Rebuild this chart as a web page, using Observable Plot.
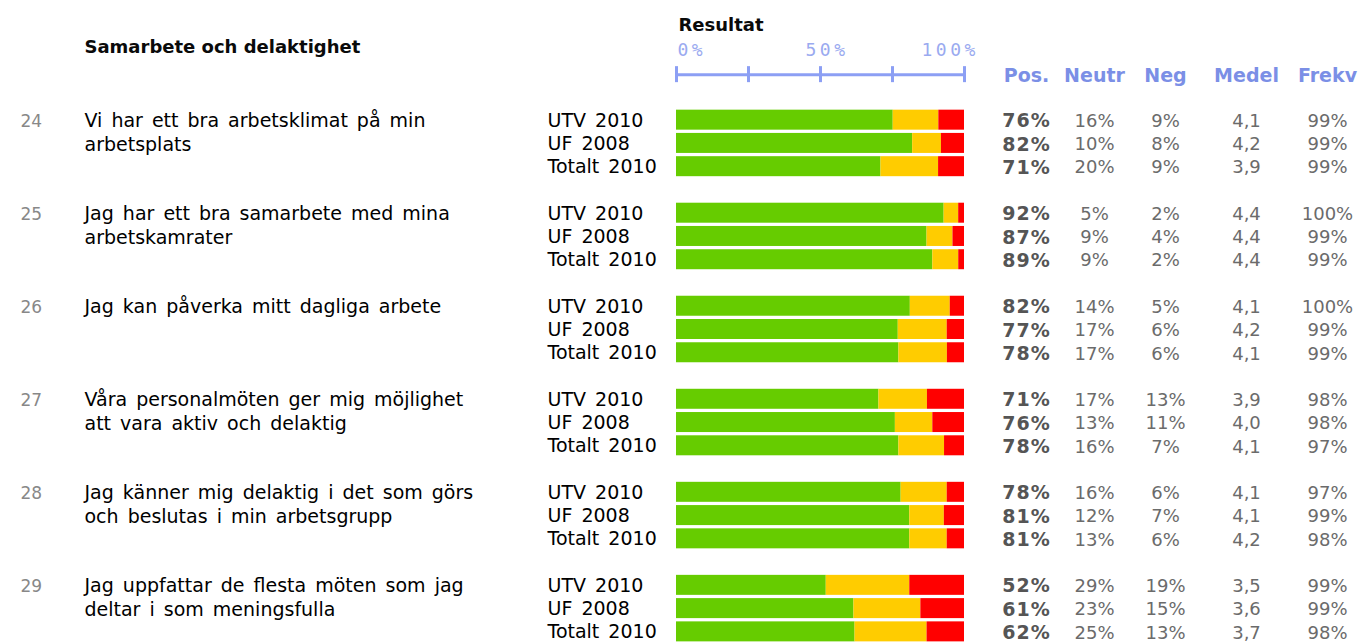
<!DOCTYPE html>
<html><head><meta charset="utf-8">
<script src="https://cdn.jsdelivr.net/npm/d3@7"></script>
<script src="https://cdn.jsdelivr.net/npm/@observablehq/plot@0.6"></script>
<style>
body{margin:0;overflow:hidden;background:#fff}
</style></head><body><div id="chart"></div>
<script>
const sectionTitle = "Samarbete och delaktighet";
const axisTitle = "Resultat";
const questionNumbers = [24, 25, 26, 27, 28, 29];
const questionLines = [
  ["Vi har ett bra arbetsklimat på min", "arbetsplats"],
  ["Jag har ett bra samarbete med mina", "arbetskamrater"],
  ["Jag kan påverka mitt dagliga arbete"],
  ["Våra personalmöten ger mig möjlighet", "att vara aktiv och delaktig"],
  ["Jag känner mig delaktig i det som görs", "och beslutas i min arbetsgrupp"],
  ["Jag uppfattar de flesta möten som jag", "deltar i som meningsfulla"]
];
const groups = ["UTV 2010", "UF 2008", "Totalt 2010"];
const positive = [[76, 82, 71], [92, 87, 89], [82, 77, 78], [71, 76, 78], [78, 81, 81], [52, 61, 62]];
const neutral  = [[16, 10, 20], [5, 9, 9], [14, 17, 17], [17, 13, 16], [16, 12, 13], [29, 23, 25]];
const negative = [[9, 8, 9], [2, 4, 2], [5, 6, 6], [13, 11, 7], [6, 7, 6], [19, 15, 13]];
const medel = [["4,1", "4,2", "3,9"], ["4,4", "4,4", "4,4"], ["4,1", "4,2", "4,1"], ["3,9", "4,0", "4,1"], ["4,1", "4,1", "4,2"], ["3,5", "3,6", "3,7"]];
const frekv = [[99, 99, 99], [100, 99, 99], [100, 99, 99], [98, 98, 97], [97, 99, 98], [99, 99, 98]];
const columnHeaders = ["Pos.", "Neutr", "Neg", "Medel", "Frekv"];
const axisTicks = [0, 25, 50, 75, 100];
const axisLabels = ["0%", "50%", "100%"];
const axisLabelValues = [0, 50, 100];
const categories = ["pos", "neu", "neg"];
const catColors = ["#66cc00", "#ffcc00", "#ff0000"];

// layout rows
const rowKey = (q, g) => `r${q}-${g}`;
const domain = ["title", "axisLabel", "axis", "gap"];
questionNumbers.forEach((_, q) => {
  groups.forEach((_, g) => domain.push(rowKey(q, g)));
  if (q < questionNumbers.length - 1) domain.push(`s${q}`);
});

const bars = [];
const rows = [];
questionNumbers.forEach((num, q) => {
  groups.forEach((grp, g) => {
    const row = rowKey(q, g);
    bars.push({row, cat: "pos", value: positive[q][g]});
    bars.push({row, cat: "neu", value: neutral[q][g]});
    bars.push({row, cat: "neg", value: negative[q][g]});
    rows.push({row, grp, pos: positive[q][g] + "%", neu: neutral[q][g] + "%", neg: negative[q][g] + "%", med: medel[q][g], frk: frekv[q][g] + "%"});
  });
});
const qNums = questionNumbers.map((n, q) => ({row: rowKey(q, 0), t: String(n)}));
const qLines = questionLines.flatMap((lines, q) => lines.map((t, i) => ({row: rowKey(q, i), t})));

const font = "DejaVu Sans";
const colDx = [62, 130, 201, 282, 363];
const colKeys = ["pos", "neu", "neg", "med", "frk"];

const valueMarks = colKeys.map((k, i) => Plot.text(rows, {
  y: "row", text: k, frameAnchor: "right", dx: colDx[i], dy: 1, textAnchor: "middle",
  fontFamily: font, fontSize: i === 0 ? 19 : 18, fontWeight: i === 0 ? "bold" : "normal",
  fill: i === 0 ? "#555555" : "#6b6b6b"
}));
const headerMarks = columnHeaders.map((h, i) => Plot.text([h], {
  y: () => "axis", text: d => d, frameAnchor: "right", dx: colDx[i], dy: 2, textAnchor: "middle",
  fontFamily: font, fontWeight: "bold", fontSize: 19, fill: "#7b8fe6"
}));
const axisLabelDx = [1, -15, -43];
const axisLabelMarks = axisLabels.map((t, i) => Plot.text([axisLabelValues[i]], {
  x: d => d / 100, y: () => "axisLabel", text: () => t, textAnchor: "start", dx: axisLabelDx[i],
  fontFamily: "DejaVu Sans Mono", fontSize: 18, fill: "#9aaaf0"
}));

const chart = Plot.plot({
  width: 1359,
  height: 643,
  marginLeft: 676,
  marginRight: 395,
  marginTop: 15,
  marginBottom: 0,
  x: {domain: [0, 1], axis: null},
  y: {domain, axis: null, paddingInner: 0.14, paddingOuter: 0.07, round: false},
  color: {domain: categories, range: catColors},
  style: {fontFamily: font, background: "#fff"},
  marks: [
    Plot.barX(bars, Plot.stackX({x: "value", y: "row", fill: "cat", order: null, offset: "normalize"})),
    // custom axis
    Plot.ruleY(["axis"], {y: d => d, x1: 0, x2: 1, stroke: "#8c9ff4", strokeWidth: 3, dy: 1}),
    Plot.tickX(axisTicks, {x: d => d / 100, y: () => "axis", stroke: "#8c9ff4", strokeWidth: 3, insetTop: 2, insetBottom: 2, dy: 1}),
    ...axisLabelMarks,
    // titles
    Plot.text([axisTitle], {y: () => "title", text: d => d, frameAnchor: "left", dx: 2, dy: -2, textAnchor: "start", fontFamily: font, fontWeight: "bold", fontSize: 18, fill: "#0a0a0a"}),
    Plot.text([sectionTitle], {y: () => "axisLabel", text: d => d, frameAnchor: "left", dx: -592, dy: -3, textAnchor: "start", fontFamily: font, fontWeight: "bold", fontSize: 18, fill: "#0a0a0a"}),
    ...headerMarks,
    // question numbers & text
    Plot.text(qNums, {y: "row", text: "t", frameAnchor: "left", dx: -656, dy: 1, textAnchor: "start", fontFamily: font, fontSize: 17, fill: "#888888"}),
    Plot.text(qLines, {y: "row", text: "t", frameAnchor: "left", dx: -592, dy: 1, textAnchor: "start", fontFamily: font, fontSize: 19, fill: "#000"}),
    Plot.text(rows, {y: "row", text: "grp", frameAnchor: "left", dx: -129, dy: 0.5, textAnchor: "start", fontFamily: font, fontSize: 19, fill: "#000"}),
    ...valueMarks
  ]
});
const svg = d3.select(chart);
svg.selectAll('g[font-family="DejaVu Sans Mono"] text').style("letter-spacing", "3.5px");
svg.selectAll('g[fill="#555555"] text').style("letter-spacing", "1px");
svg.selectAll('g[fill="#000"] text').style("word-spacing", "3px");
document.getElementById("chart").appendChild(chart);
</script></body></html>
